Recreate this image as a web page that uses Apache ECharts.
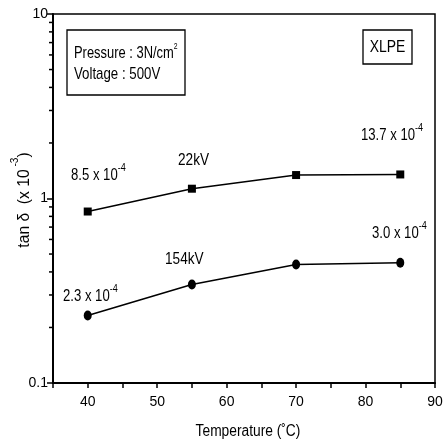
<!DOCTYPE html>
<html><head><meta charset="utf-8">
<script src="https://cdn.jsdelivr.net/npm/echarts@6/dist/echarts.min.js"></script>
<style>html,body{margin:0;padding:0;background:#fff}#c{width:446px;height:444px}</style>
</head><body><div id="c"></div>
<script>
var temps = [40, 55, 70, 85];
var tan22kV = [0.85, 1.13, 1.34, 1.35];
var tan154kV = [0.232, 0.342, 0.439, 0.448];
var yTickLabels = ['0.1', '1', '10'];
var xMin = 35, xMax = 90;
var minorLogTicks = [0.2,0.3,0.4,0.5,0.6,0.7,0.8,0.9,2,3,4,5,6,7,8,9];

var FONT = "'Liberation Sans',Arial,sans-serif";
var chart = echarts.init(document.getElementById('c'));
function sup(main, s){ return '{a|' + main + '}{s|' + s + '}'; }
function rich(size, lh, ss){
  return {
    a: {fontFamily: FONT, fontSize: size, fill: '#000', lineHeight: lh, verticalAlign: 'bottom'},
    s: {fontFamily: FONT, fontSize: ss || Math.round(size * 0.72), fill: '#000', lineHeight: lh, verticalAlign: 'top'}
  };
}
function label(x, y, txt, sx){
  return {type: 'text', x: x, y: y, scaleX: sx || 0.82, style: {text: txt, rich: rich(16, 22, 11), fill: '#000', textAlign: 'left', textVerticalAlign: 'middle'}};
}
function plain(x, y, txt, size, sx, align){
  return {type: 'text', x: x, y: y, scaleX: sx, style: {text: txt, font: size + 'px ' + FONT, fill: '#000', textAlign: align || 'left', textVerticalAlign: 'middle'}};
}
chart.setOption({
  animation: false,
  backgroundColor: '#fff',
  grid: {left: 53, right: 11, top: 14, bottom: 61, show: true, borderColor: '#000', borderWidth: 1.5, backgroundColor: 'transparent'},
  xAxis: {
    type: 'value', min: xMin, max: xMax, interval: 5,
    axisLine: {lineStyle: {color: '#000', width: 2}},
    axisTick: {inside: false, length: 5, lineStyle: {color: '#000', width: 1.5}},
    axisLabel: {color: '#000', fontFamily: FONT, fontSize: 14, margin: 12,
      formatter: function(v){ return v % 10 === 0 ? String(v) : ''; }},
    splitLine: {show: false}
  },
  yAxis: {
    type: 'log', logBase: 10, min: 0.1, max: 10,
    axisLine: {lineStyle: {color: '#000', width: 2}},
    axisTick: {inside: false, length: 6, lineStyle: {color: '#000', width: 1.5}},
    axisLabel: {color: '#000', fontFamily: FONT, fontSize: 14, margin: 5,
      formatter: function(v){ var i = Math.round(Math.log10(v)) + 1; return yTickLabels[i] || ''; }},
    splitLine: {show: false}
  },
  series: [
    {type: 'custom', coordinateSystem: 'cartesian2d', silent: true, clip: false,
      data: minorLogTicks.map(function(v){ return [xMin, v]; }),
      renderItem: function(params, api){
        var p = api.coord([api.value(0), api.value(1)]);
        return {type: 'line', shape: {x1: p[0] - 4, y1: p[1], x2: p[0], y2: p[1]}, style: {stroke: '#000', lineWidth: 1.5}};
      }},
    {name: '22kV', type: 'line', data: temps.map(function(t, i){ return [t, tan22kV[i]]; }),
      symbol: 'rect', symbolSize: 8, lineStyle: {color: '#000', width: 1.5}, itemStyle: {color: '#000'}},
    {name: '154kV', type: 'line', data: temps.map(function(t, i){ return [t, tan154kV[i]]; }),
      symbol: 'circle', symbolSize: [8, 10], lineStyle: {color: '#000', width: 1.5}, itemStyle: {color: '#000'}}
  ],
  graphic: [
    {type: 'rect', shape: {x: 67, y: 30, width: 118, height: 65}, style: {fill: '#fff', stroke: '#000', lineWidth: 1.3}},
    {type: 'text', x: 74, y: 52, scaleX: 0.76, style: {text: '{a|Pressure : 3N/cm}{s|2}', rich: {
        a: {fontFamily: FONT, fontSize: 17, fill: '#000', lineHeight: 20, verticalAlign: 'bottom'},
        s: {fontFamily: FONT, fontSize: 9, fill: '#000', lineHeight: 20, verticalAlign: 'top'}},
      fill: '#000', textVerticalAlign: 'middle'}},
    plain(74, 74, 'Voltage : 500V', 17, 0.78),
    {type: 'rect', shape: {x: 363, y: 30, width: 49, height: 34}, style: {fill: '#fff', stroke: '#000', lineWidth: 1.3}},
    plain(387.5, 47, 'XLPE', 17, 0.82, 'center'),
    label(71, 173, sup('8.5 x 10', '-4')),
    plain(178, 161, '22kV', 16, 0.85),
    label(361, 133, sup('13.7 x 10', '-4')),
    plain(165, 260, '154kV', 16, 0.85),
    label(63, 294, sup('2.3 x 10', '-4')),
    label(372, 231, sup('3.0 x 10', '-4')),
    plain(248, 432, 'Temperature (\u02DAC)', 16, 0.86, 'center'),
    {type: 'text', x: 21, y: 200, rotation: Math.PI / 2, scaleX: 0.92, style: {text: '{a|tan \u03B4  (x 10}{s| -3}{a|)}', rich: rich(17, 24, 11), fill: '#000', textAlign: 'center', textVerticalAlign: 'middle'}}
  ]
});
</script></body></html>
